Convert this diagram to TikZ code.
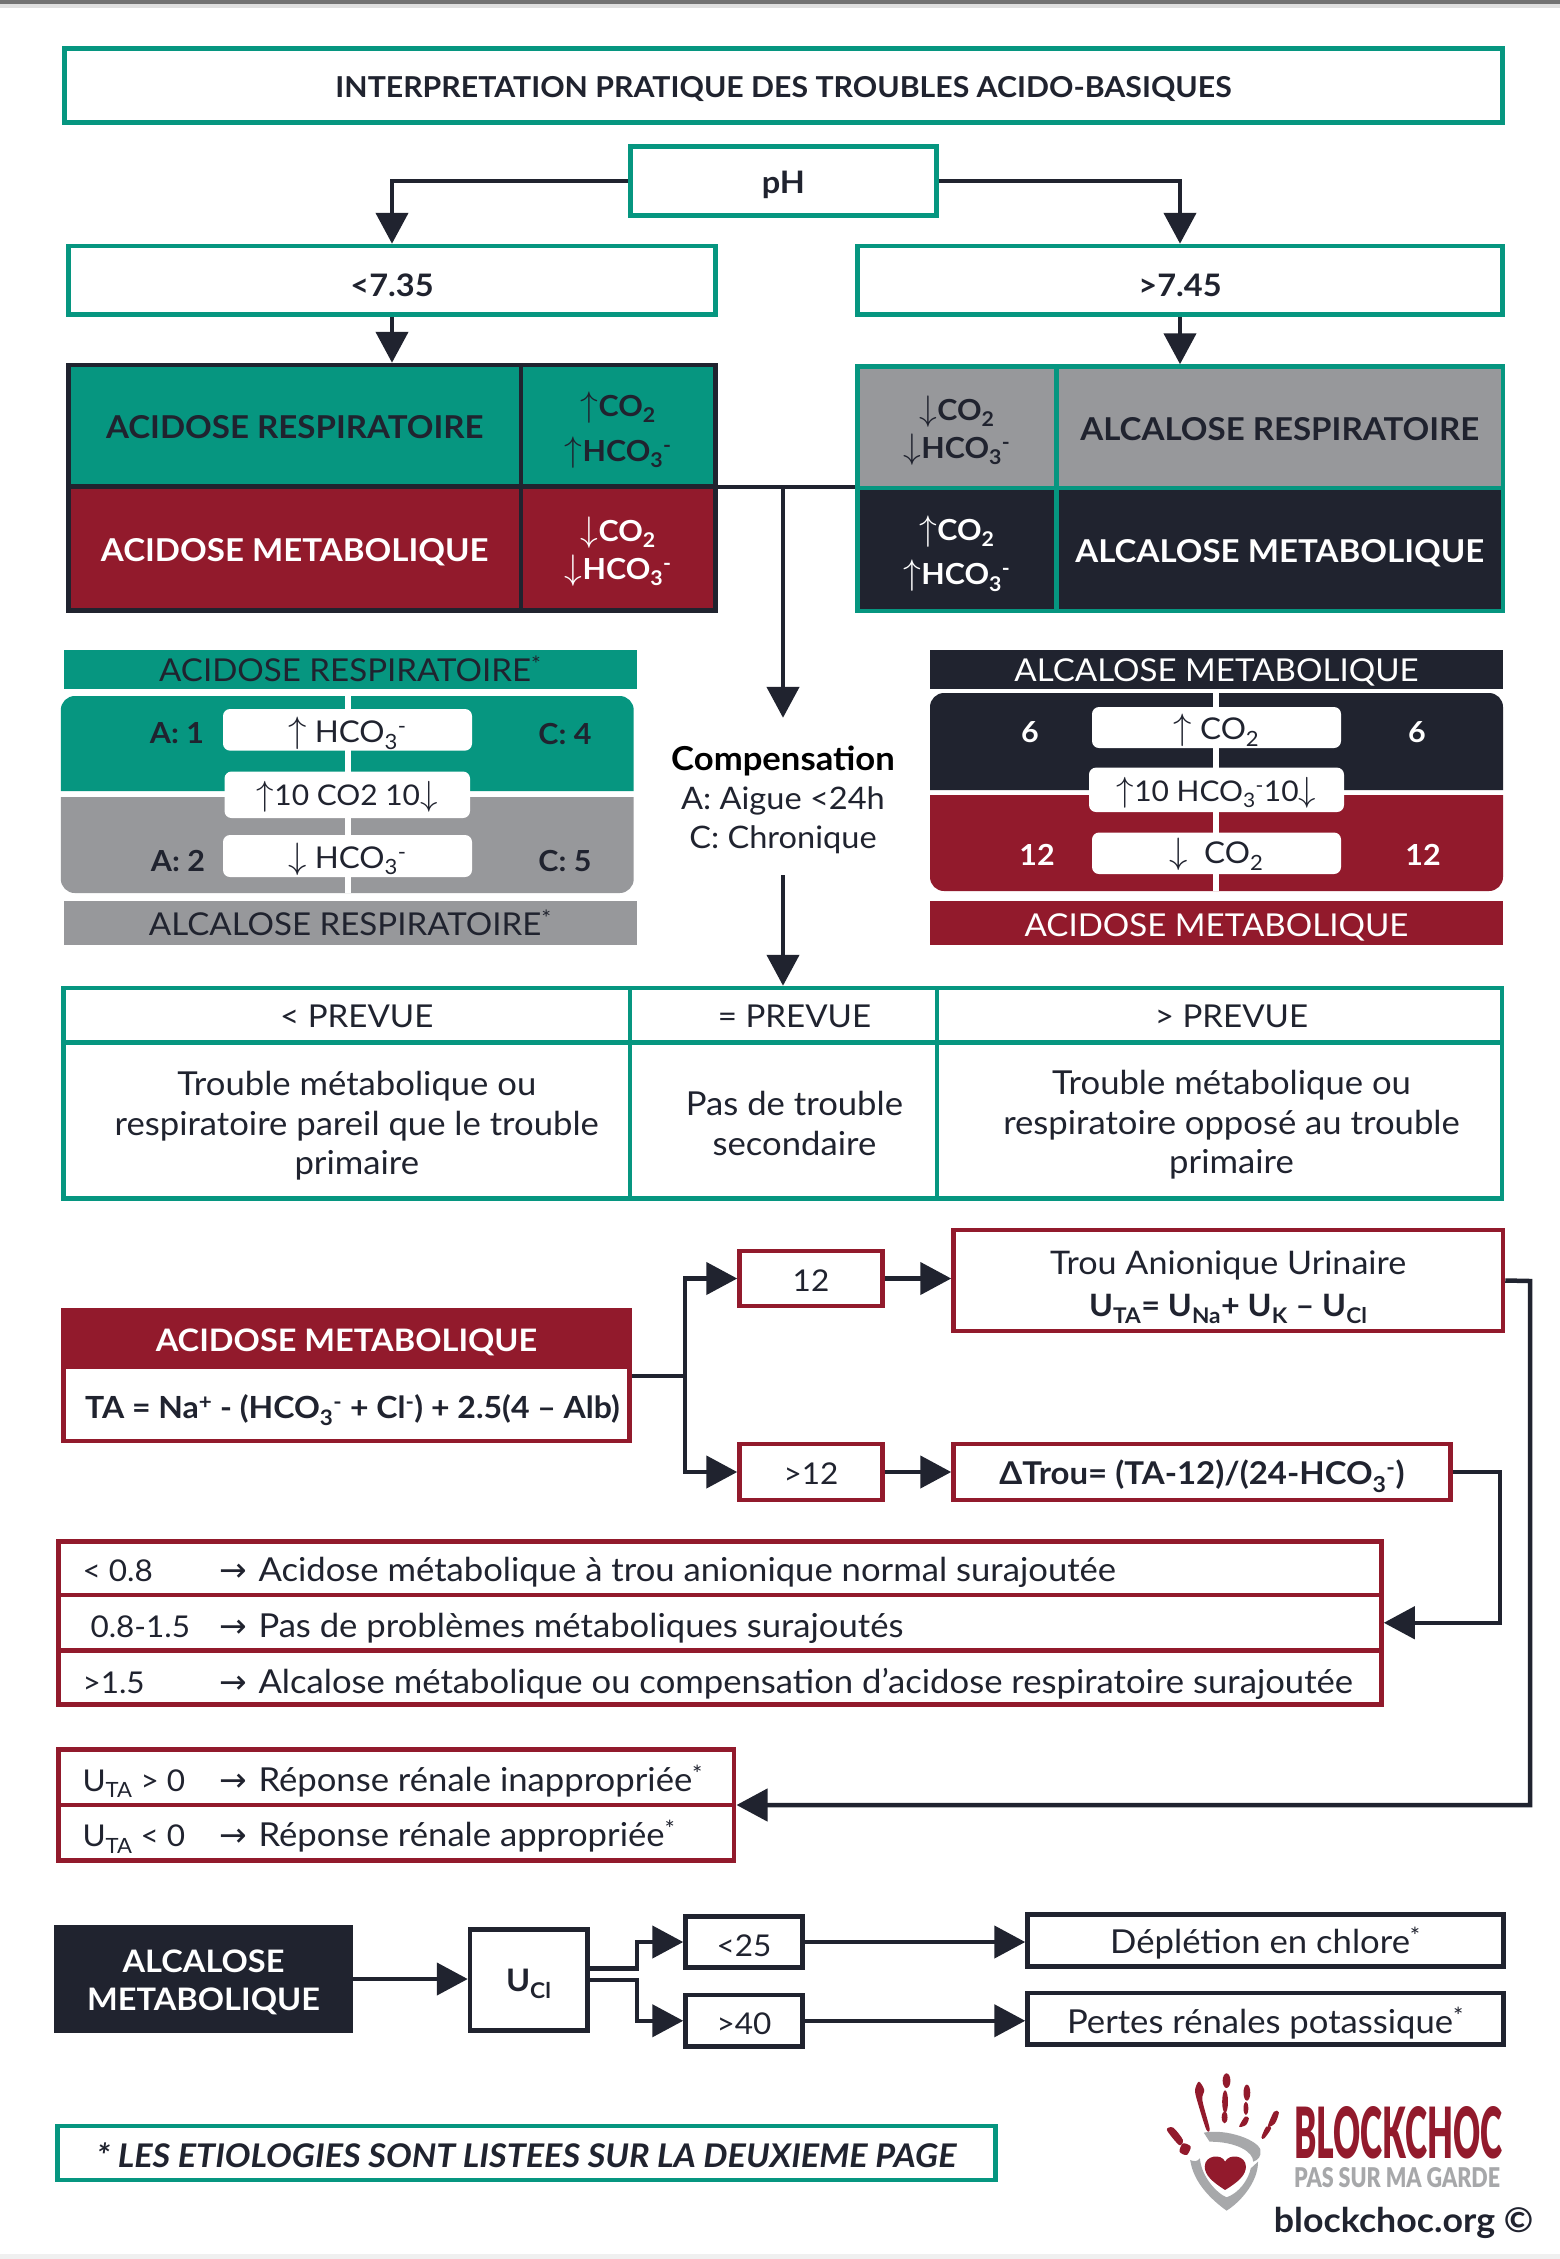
\documentclass[tikz,border=0pt]{standalone}
\usepackage{fontspec}
\usepackage{graphicx}
\setmainfont{Lato}[FakeStretch=1.05]
\newfontfamily\arrfont{DejaVu Sans}
\newfontfamily\heavyfont{Lato Black}
\usetikzlibrary{arrows.meta,calc}
\definecolor{teal}{HTML}{069680}
\definecolor{wine}{HTML}{921A2C}
\definecolor{ink}{HTML}{20232F}
\definecolor{midgray}{HTML}{97989B}
\definecolor{logogray}{HTML}{A7A8AA}
\newcommand\fz[2]{\fontsize{#1}{#2}\selectfont}
\newcommand\up{\resizebox{!}{0.85em}{$\uparrow$}}
\newcommand\dn{\resizebox{!}{0.85em}{$\downarrow$}}
\newcommand\HCO{HCO\textsubscript{3}\textsuperscript{-}}
\newcommand\COt{CO\textsubscript{2}}
\newcommand\dy[2]{\raisebox{-#1pt}[\height][\depth]{#2}}
\newcommand\ml[2]{\dy{#1}{\begin{tabular}{@{}c@{}}#2\end{tabular}}}
\newcommand\bx[7][]{%
  \pgfmathsetmacro\bxw{#5-#3}\pgfmathsetmacro\bxh{#6-#4}%
  \pgfmathsetmacro\bxcx{(#3+#5)/2}\pgfmathsetmacro\bxcy{(#4+#6)/2}%
  \node[base,#1,minimum width=\bxw pt,minimum height=\bxh pt] (#2) at (\bxcx,\bxcy) {#7};}
\newcommand\rowtxt[4]{\dy{#4}{\makebox[#1pt][l]{\hspace*{24pt}\makebox[137pt][l]{#2}\makebox[39pt][l]{\fz{33}{39}\arrfont →}\fz{33}{39}#3}}}
\tikzset{
  base/.style={inner sep=0pt,align=center,text=ink,font=\fz{30}{39}},
  tbox/.style={draw=teal,line width=4.5pt,fill=white},
  rbox/.style={draw=wine,line width=4.5pt,fill=white},
  kbox/.style={draw=ink,line width=4.5pt,fill=white},
  bold/.style={font=\fz{31}{40}\bfseries},
  head/.style={font=\fz{31.5}{40}},
  body/.style={font=\fz{33}{39.5}},
  cell/.style={font=\fz{31.5}{40}\bfseries},
  chemw/.style={font=\fz{29}{44.5}\bfseries},
  chemn/.style={font=\fz{29}{38}\bfseries},
  wire/.style={draw=ink,line width=4.5pt,line join=miter},
  conn/.style={wire,-{Triangle[length=31pt,width=32pt]}},
  pill/.style={fill=white,rounded corners=7pt},
  lab/.style={base,font=\fz{29}{36}\bfseries},
}
\begin{document}
\begin{tikzpicture}[x=1pt,y=-1pt]
\useasboundingbox (0,0) rectangle (1560,2259);
\fill[white] (0,0) rectangle (1560,2259);
\fill[black!12] (0,4) rectangle (1560,8);
\fill[black!55] (0,0) rectangle (1560,4);
\fill[black!6] (0,2254) rectangle (1560,2259);

% title and pH
\bx[tbox,font=\fz{28.8}{40}\bfseries]{title}{64.5}{48.5}{1502.5}{122.5}{\dy{4}{INTERPRETATION PRATIQUE DES TROUBLES ACIDO-BASIQUES}}
\bx[tbox,bold]{ph}{630.5}{146.5}{936.5}{215.5}{\dy{4}{pH}}
\bx[tbox,bold]{lt}{68.5}{246}{715.5}{314.5}{\dy{5.5}{<7.35}}
\bx[tbox,bold]{gt}{857.5}{246}{1502.5}{314.5}{\dy{5.5}{>7.45}}

% acidose table
\bx[kbox,fill=teal,cell]{acR}{68.5}{365}{521}{486.5}{\dy{1.5}{ACIDOSE RESPIRATOIRE}}
\bx[kbox,fill=teal,chemw]{coR}{521}{365}{715.5}{486.5}{\ml{4.2}{\up\COt\\\up\HCO}}
\bx[kbox,fill=wine,text=white,cell]{acM}{68.5}{486.5}{521}{610.5}{\dy{4}{ACIDOSE METABOLIQUE}}
\bx[kbox,fill=wine,text=white,chemn]{coM}{521}{486.5}{715.5}{610.5}{\ml{4.2}{\dn\COt\\\dn\HCO}}

% alcalose table
\bx[tbox,fill=midgray,chemn]{coAR}{857.5}{366.5}{1056.5}{488}{\ml{4.2}{\dn\COt\\\dn\HCO}}
\bx[tbox,fill=midgray,cell]{alR}{1056.5}{366.5}{1503}{488}{\dy{1.5}{ALCALOSE RESPIRATOIRE}}
\bx[tbox,fill=ink,text=white,chemw]{coAM}{857.5}{488}{1056.5}{611}{\ml{4.2}{\up\COt\\\up\HCO}}
\bx[tbox,fill=ink,text=white,cell]{alM}{1056.5}{488}{1503}{611}{\dy{4}{ALCALOSE METABOLIQUE}}

% compensation, left block
\bx[fill=teal,head]{hAR}{63.6}{650}{637}{688.5}{ACIDOSE RESPIRATOIRE\textsuperscript{*}}
\fill[teal] (60.8,791) [rounded corners=14pt] -- (60.8,696) -- (633.7,696) [sharp corners] -- (633.7,791) -- cycle;
\fill[midgray] (60.8,797) -- (633.7,797) [rounded corners=14pt] -- (633.7,893) -- (60.8,893) [sharp corners] -- cycle;
\fill[white] (344.7,696) rectangle (350.7,893);
\bx[pill]{pa1}{223}{709}{472}{750.6}{\dy{4}{\up\ \HCO}}
\bx[pill,font=\fz{28.5}{36}]{pa2}{224.5}{771.5}{470}{818}{\dy{2}{\up10 CO2 10\dn}}
\bx[pill]{pa3}{223}{835}{472}{877}{\dy{3}{\dn\ \HCO}}
\node[lab] (a1) at (177,733.5) {A: 1};
\node[lab] (c4) at (565,734.5) {C: 4};
\node[lab] (a2) at (178,860.5) {A: 2};
\node[lab] (c5) at (565,861.5) {C: 5};
\bx[fill=midgray,head]{hALR}{63.6}{901}{637}{945}{ALCALOSE RESPIRATOIRE\textsuperscript{*}}

% compensation, right block
\bx[fill=ink,text=white,head]{hAM}{930}{650}{1503}{688.5}{\dy{3}{ALCALOSE METABOLIQUE}}
\fill[ink] (930,790) [rounded corners=14pt] -- (930,693) -- (1503,693) [sharp corners] -- (1503,790) -- cycle;
\fill[wine] (930,795) -- (1503,795) [rounded corners=14pt] -- (1503,891) -- (930,891) [sharp corners] -- cycle;
\fill[white] (1213,693) rectangle (1219,891);
\bx[pill]{pb1}{1092}{707}{1341}{748}{\dy{3}{\up\ \COt}}
\bx[pill,font=\fz{28.5}{36}]{pb2}{1089}{767.6}{1344}{812}{\dy{3}{\up10 \HCO10\dn}}
\bx[pill]{pb3}{1092}{832.5}{1341}{874}{\dy{1.5}{\dn\ \ \COt}}
\node[lab,text=white] (n6a) at (1030,732) {6};
\node[lab,text=white] (n6b) at (1417,732) {6};
\node[lab,text=white] (n12a) at (1037,855) {12};
\node[lab,text=white] (n12b) at (1423,855) {12};
\bx[fill=wine,text=white,head]{hMA}{930}{901}{1503}{945}{\dy{4}{ACIDOSE METABOLIQUE}}

% compensation legend
\bx[font=\fz{31}{39}]{comp}{683}{718}{883}{875}{\ml{4.7}{{\fz{33}{39}\bfseries\color{black}Compensation}\\A: Aigue <24h\\C: Chronique}}

% prevue table
\bx[tbox,head]{pah}{63.6}{988}{630}{1042.4}{\dy{1.5}{\hspace*{20pt}< PREVUE}}
\bx[tbox,head]{pbh}{630}{988}{937}{1042.4}{\dy{1.5}{\hspace*{22pt}= PREVUE}}
\bx[tbox,head]{pch}{937}{988}{1502}{1042.4}{\dy{1.5}{\hspace*{24pt}> PREVUE}}
\bx[tbox,body]{pab}{63.6}{1042.4}{630}{1198.6}{\hspace*{20pt}\ml{7}{Trouble métabolique ou\\respiratoire pareil que le trouble\\primaire}}
\bx[tbox,body]{pbb}{630}{1042.4}{937}{1198.6}{\hspace*{22pt}\ml{7}{Pas de trouble\\secondaire}}
\bx[tbox,body]{pcb}{937}{1042.4}{1502}{1198.6}{\hspace*{24pt}\ml{6}{Trouble métabolique ou\\respiratoire opposé au trouble\\primaire}}

% acidose metabolique box
\bx[rbox,fill=wine,text=white,bold]{amH}{63.5}{1310}{629.5}{1367}{\dy{4}{ACIDOSE METABOLIQUE}}
\bx[rbox,font=\fz{30.5}{36}\bfseries]{amB}{63.5}{1367}{629.5}{1441}{\dy{6}{\hspace*{12pt}TA = Na\textsuperscript{+} - (\HCO{} + Cl\textsuperscript{-}) + 2.5(4 – Alb)}}
\bx[rbox]{b12}{739.5}{1251}{882.5}{1306}{\dy{2}{12}}
\bx[rbox]{bg12}{739.5}{1444}{882.5}{1500}{\dy{2}{>12}}
\bx[rbox,font=\fz{32.5}{41.8}]{tau}{953.5}{1230}{1503}{1331}{\ml{6.6}{Trou Anionique Urinaire\\{\fz{30.8}{41.8}\bfseries U\textsubscript{TA}= U\textsubscript{Na}+ U\textsubscript{K} – U\textsubscript{Cl}}}}
\bx[rbox,font=\fz{31.4}{36}\bfseries]{dt}{953.5}{1444}{1450.5}{1500}{\dy{4}{ΔTrou= (TA-12)/(24-\HCO)}}

% first list
\bx[rbox]{l1}{58.5}{1541.5}{1381.5}{1595}{\rowtxt{1323}{< 0.8}{Acidose métabolique à trou anionique normal surajoutée}{4}}
\bx[rbox]{l2}{58.5}{1595}{1381.5}{1650.5}{\rowtxt{1323}{\hspace*{8pt}0.8-1.5}{Pas de problèmes métaboliques surajoutés}{5.5}}
\bx[rbox]{l3}{58.5}{1650.5}{1381.5}{1704.5}{\rowtxt{1323}{>1.5}{Alcalose métabolique ou compensation d'acidose respiratoire surajoutée}{6.5}}

% second list
\bx[rbox]{u1}{58.5}{1749.5}{734}{1805}{\rowtxt{675.5}{U\textsubscript{TA} > 0}{Réponse rénale inappropriée\textsuperscript{*}}{4}}
\bx[rbox]{u2}{58.5}{1805}{734}{1860.5}{\rowtxt{675.5}{U\textsubscript{TA} < 0}{Réponse rénale appropriée\textsuperscript{*}}{4}}

% alcalose metabolique row
\bx[fill=ink,text=white,font=\fz{31}{38}\bfseries]{amd}{54}{1925}{353}{2033}{\ml{4.6}{ALCALOSE\\METABOLIQUE}}
\bx[kbox,bold]{ucl}{470}{1929.5}{587.5}{2030.5}{\dy{4}{U\textsubscript{Cl}}}
\bx[kbox]{b25}{685.5}{1916.5}{802.5}{1967.5}{\dy{4}{<25}}
\bx[kbox]{b40}{685.5}{1995}{802.5}{2046.5}{\dy{3}{>40}}
\bx[kbox,body]{dep}{1027.5}{1914.5}{1503.5}{1966.5}{\dy{3}{Déplétion en chlore\textsuperscript{*}}}
\bx[kbox,body]{per}{1027.5}{1993}{1503.5}{2044.5}{\dy{4}{Pertes rénales potassique\textsuperscript{*}}}

% footnote
\bx[tbox,font=\fz{32.6}{36}\bfseries\itshape]{foot}{57.5}{2126}{995.5}{2180}{\dy{2}{* LES ETIOLOGIES SONT LISTEES SUR LA DEUXIEME PAGE}}

% connector points
\coordinate (junL) at (718,487);
\coordinate (junR) at (855,487);
\coordinate (junC) at (783,487);
\coordinate (amj) at (685,1376);
\coordinate (dtr) at (1500,1472);
\coordinate (taur) at (1530,1281);
\coordinate (ujoin) at (736.5,1805);

% connectors
\draw[conn] (ph.west) -| (lt.north);
\draw[conn] (ph.east) -| (gt.north);
\draw[conn] (lt.south) -- (lt.south |- acR.north);
\draw[conn] (gt.south) -- (gt.south |- alR.north);
\draw[wire] (junL) -- (junR);
\draw[conn] (junC) -- (comp.north);
\draw[conn] (comp.south) -- (comp.south |- pbh.north);
\draw[wire] (amj -| amB.east) -- (amj);
\draw[conn] (amj) |- (b12.west);
\draw[conn] (amj) |- (bg12.west);
\draw[conn] (b12.east) -- (b12.east -| tau.west);
\draw[conn] (bg12.east) -- (bg12.east -| dt.west);
\draw[conn] (tau.east) -- (taur) |- (ujoin);
\draw[conn] (dt.east) -- (dtr) |- (l2.east);
\draw[conn] (amd.east) -- (amd.east -| ucl.west);
\draw[conn] ($(ucl.east)+(0,-11.5)$) -- ++(47,0) |- (b25.west);
\draw[conn] (ucl.east) -- ++(47,0) |- (b40.west);
\draw[conn] (b25.east) -- (b25.east -| dep.west);
\draw[conn] (b40.east) -- (b40.east -| per.west);

% logo
\node[inner sep=0pt,text=wine] (logoA) at (1398,2133) {\resizebox{208pt}{52pt}{\heavyfont BLOCKCHOC}};
\node[inner sep=0pt,text=logogray] (logoB) at (1397,2178) {\resizebox{206pt}{20pt}{\heavyfont PAS SUR MA GARDE}};
\node[inner sep=0pt,text=ink,font=\fz{34}{40}\bfseries] (logoC) at (1403.5,2223) {blockchoc.org ©};
\begin{scope}[shift={(800,1860)},x=0.4847pt,y=-0.3333pt]
  \fill[wine] plot[smooth cycle] coordinates {(815,690) (823,665) (834,690) (830,720) (845,805) (838,808) (820,725)};
  \fill[wine] (880,662) ellipse [x radius=8,y radius=22];
  \fill[wine] (877,725) ellipse [x radius=6,y radius=34];
  \fill[wine] (876,772) ellipse [x radius=6,y radius=18];
  \fill[wine] (922,698) ellipse [x radius=7,y radius=24];
  \fill[wine] (920,745) ellipse [x radius=5,y radius=20];
  \fill[wine] plot[smooth cycle] coordinates {(918,770) (926,775) (920,795) (906,800)};
  \fill[wine] plot[smooth cycle] coordinates {(978,755) (988,757) (980,790) (965,800)};
  \fill[wine] plot[smooth cycle] coordinates {(962,800) (972,805) (958,835) (952,832)};
  \fill[wine] plot[smooth cycle] coordinates {(757,810) (770,803) (790,840) (782,855)};
  \fill[wine] plot[smooth cycle] coordinates {(790,850) (806,860) (798,885) (783,875)};
  \fill[logogray] (833,818) .. controls (880,805) and (945,840) .. (950,870) .. controls (952,890) and (945,900) .. (935,905) .. controls (935,875) and (900,845) .. (845,845) -- cycle;
  \fill[logogray] (805,900) .. controls (812,905) and (820,905) .. (825,895) .. controls (828,950) and (860,1000) .. (880,1012) .. controls (905,1000) and (925,960) .. (930,925) -- (945,905) .. controls (945,970) and (905,1030) .. (880,1052) .. controls (850,1020) and (812,970) .. (805,900) -- cycle;
  \fill[wine] (877,990) .. controls (850,965) and (835,945) .. (835,920) .. controls (835,885) and (870,880) .. (877,905) .. controls (885,880) and (920,885) .. (920,920) .. controls (920,945) and (905,965) .. (877,990) -- cycle;
\end{scope}
\end{tikzpicture}
\end{document}
